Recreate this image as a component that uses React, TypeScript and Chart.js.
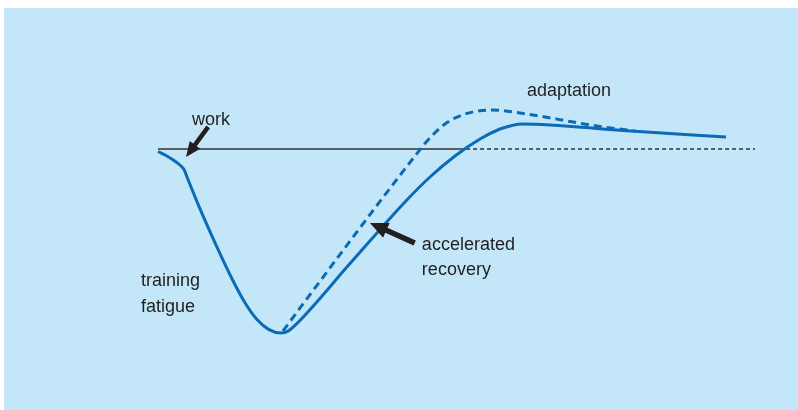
import React, { useEffect, useRef } from "react";
import { Chart, registerables } from "chart.js";

Chart.register(...registerables);

// ---- data (time on x, performance relative to baseline on y) ----
const solidX = [0, 1.34, 2.68, 3.85, 4.36, 4.86, 7.04, 9.88, 12.56, 14.57, 16.58, 18.59, 20.60, 21.78, 23.03, 32.16, 41.37, 45.56, 49.75, 53.94, 57.29, 59.30, 60.97, 77.89, 95.14];
const solidY = [-1.36, -3.53, -6.25, -9.24, -11.14, -15.22, -32.55, -53.32, -71.58, -83.53, -92.66, -98.15, -100, -98.97, -95.6, -62.28, -28.8, -15.22, -3.8, 5.43, 10.87, 12.77, 13.59, 10.05, 6.52];

const dashX = [20.94, 23.79, 43.05, 45.23, 48.07, 51.42, 56.11, 60.64, 64.82, 69.01, 74.04, 79.9];
const dashY = [-98.9, -86.4, -3.8, 4.9, 13.6, 19.0, 21.2, 19.57, 17.39, 14.95, 12.23, 9.78];

const baselineValue = 0;
const baselineSolidX = [0, 51.6];
const baselineDashX = [51.6, 100];

const textLabels = ["work", "adaptation", "accelerated", "recovery", "training", "fatigue"];
const labelAnchors = [
  [5.7, 13.0],
  [61.8, 28.8],
  [44.2, -54.9],
  [44.2, -68.5],
  [-2.85, -74.5],
  [-2.85, -88.5],
];
const arrowTails = [
  [8.4, 12.0],
  [43.0, -51.1],
];
const arrowTips = [
  [4.7, -4.3],
  [35.5, -40.2],
];

const BLUE = "#0b6bb7";
const INK = "#231f20";
const PANEL = "#c3e7f9";

const pts = (xs: number[], ys: number[]) => xs.map((x, i) => ({ x, y: ys[i] }));

const decorPlugin = {
  id: "decor",
  beforeDraw(chart: any) {
    const ctx = chart.ctx;
    ctx.save();
    ctx.fillStyle = "#ffffff";
    ctx.fillRect(0, 0, chart.width, chart.height);
    ctx.fillStyle = PANEL;
    ctx.fillRect(4, 8, chart.width - 4, chart.height - 8);
    ctx.restore();
  },
  afterDatasetsDraw(chart: any) {
    const ctx = chart.ctx;
    const xs = chart.scales.x;
    const ys = chart.scales.y;
    ctx.save();
    ctx.fillStyle = INK;
    const arrowSizes = [
      { head: 15, headW: 13, shaft: 4.5 },
      { head: 18, headW: 16, shaft: 5.5 },
    ];
    arrowTails.forEach((t, i) => {
      const x0 = xs.getPixelForValue(t[0]);
      const y0 = ys.getPixelForValue(t[1]);
      const x1 = xs.getPixelForValue(arrowTips[i][0]);
      const y1 = ys.getPixelForValue(arrowTips[i][1]);
      const dx = x1 - x0;
      const dy = y1 - y0;
      const len = Math.hypot(dx, dy);
      const ux = dx / len;
      const uy = dy / len;
      const nx = -uy;
      const ny = ux;
      const { head, headW, shaft } = arrowSizes[i];
      const bx = x1 - ux * head;
      const by = y1 - uy * head;
      ctx.beginPath();
      ctx.moveTo(x0 + nx * shaft / 2, y0 + ny * shaft / 2);
      ctx.lineTo(bx + nx * shaft / 2, by + ny * shaft / 2);
      ctx.lineTo(bx + nx * headW / 2, by + ny * headW / 2);
      ctx.lineTo(x1, y1);
      ctx.lineTo(bx - nx * headW / 2, by - ny * headW / 2);
      ctx.lineTo(bx - nx * shaft / 2, by - ny * shaft / 2);
      ctx.lineTo(x0 - nx * shaft / 2, y0 - ny * shaft / 2);
      ctx.closePath();
      ctx.fill();
    });
    ctx.font = '18px "Liberation Sans", Arial, sans-serif';
    ctx.textAlign = "left";
    ctx.textBaseline = "alphabetic";
    ctx.fillStyle = INK;
    textLabels.forEach((s, i) => {
      ctx.fillText(s, xs.getPixelForValue(labelAnchors[i][0]), ys.getPixelForValue(labelAnchors[i][1]));
    });
    ctx.restore();
  },
};

export default function App() {
  const ref = useRef<HTMLCanvasElement>(null);
  useEffect(() => {
    if (!ref.current) return;
    const chart = new Chart(ref.current, {
      type: "line",
      data: {
        datasets: [
          {
            data: pts(solidX, solidY),
            borderColor: BLUE,
            borderWidth: 3,
            pointRadius: 0,
            cubicInterpolationMode: "monotone",
            clip: false,
            order: 0,
          },
          {
            data: pts(dashX, dashY),
            borderColor: BLUE,
            borderWidth: 3,
            borderDash: [8, 5],
            pointRadius: 0,
            cubicInterpolationMode: "monotone",
            clip: false,
            order: 1,
          },
          {
            data: baselineSolidX.map((x) => ({ x, y: baselineValue })),
            borderColor: "#333333",
            borderWidth: 1.5,
            pointRadius: 0,
            tension: 0,
            clip: false,
            order: 3,
          },
          {
            data: baselineDashX.map((x) => ({ x, y: baselineValue })),
            borderColor: "#333333",
            borderWidth: 1.5,
            borderDash: [4, 3],
            pointRadius: 0,
            tension: 0,
            clip: false,
            order: 3,
          },
        ],
      },
      options: {
        responsive: false,
        animation: false,
        devicePixelRatio: 1,
        layout: { padding: { left: 158, right: 43, top: 38.6, bottom: 40.2 } },
        plugins: { legend: { display: false }, tooltip: { enabled: false } },
        events: [],
        scales: {
          x: { type: "linear", min: 0, max: 100, display: false },
          y: { type: "linear", min: -120, max: 60, display: false },
        },
      },
      plugins: [decorPlugin],
    } as any);
    return () => chart.destroy();
  }, []);
  return (
    <div style={{ position: "absolute", left: 0, top: 0, width: 798, height: 410 }}>
      <canvas ref={ref} width={798} height={410} style={{ width: 798, height: 410, display: "block" }} />
    </div>
  );
}
